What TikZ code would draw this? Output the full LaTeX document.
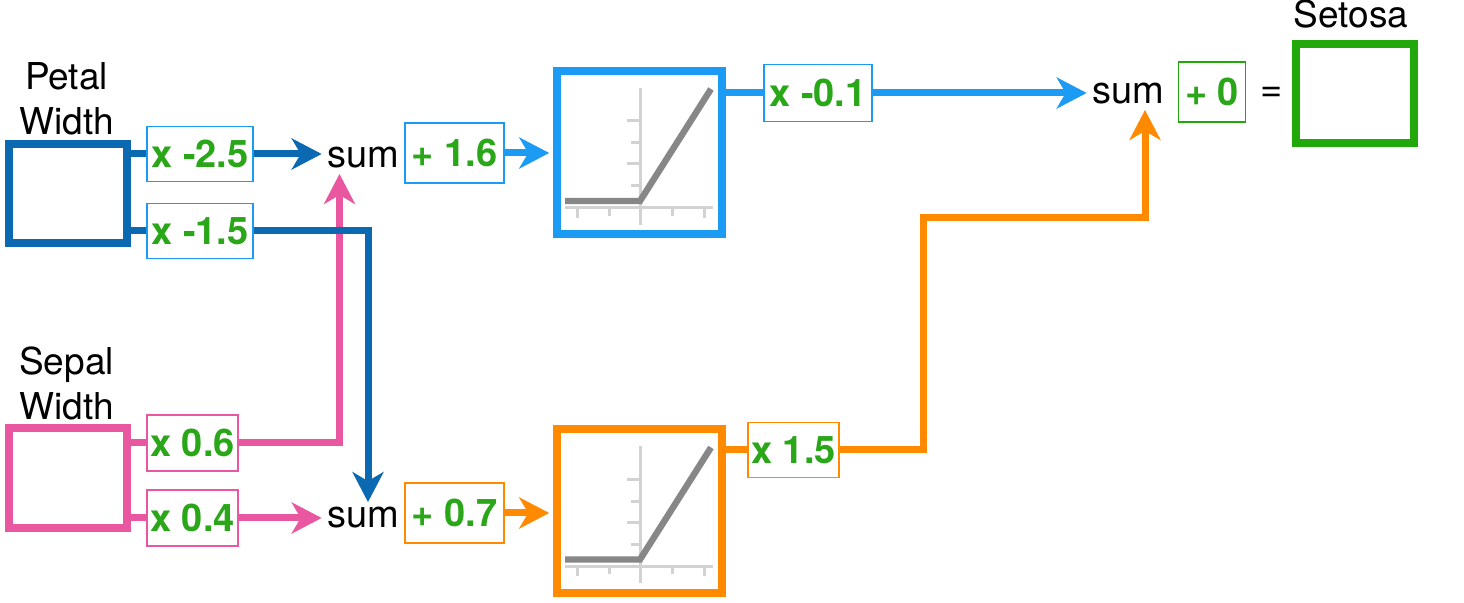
\documentclass[tikz,border=0pt]{standalone}
\usepackage{fontspec}
\setmainfont{TeX Gyre Heros}
\usetikzlibrary{arrows.meta}
\definecolor{dblue}{HTML}{0B69B1}
\definecolor{lblue}{HTML}{1B9BF3}
\definecolor{pinkc}{HTML}{E8579F}
\definecolor{orangec}{HTML}{FF8A00}
\definecolor{tgreen}{HTML}{2AA619}
\definecolor{bgreen}{HTML}{22A80A}
\definecolor{axisgrey}{HTML}{D2D2D2}
\definecolor{relugrey}{HTML}{878787}
\begin{document}
\begin{tikzpicture}[x=0.5pt,y=-0.5pt,
  bigbox/.style={draw, line width=3.75pt, inner sep=0pt, fill=white},
  wbox/.style={draw, line width=0.8pt, fill=white, inner sep=0pt,
    font=\fontsize{19}{20}\selectfont\bfseries, text=tgreen},
  lbl/.style={font=\fontsize{18.5}{22.5}\selectfont, inner sep=0pt, align=center},
  sumlbl/.style={font=\fontsize{19}{20}\selectfont, inner sep=2.5pt},
  conn/.style={line width=3.5pt},
  arr/.style={conn, -{Stealth[length=15pt,width=15.5pt,inset=4.5pt]}},
  relu/.pic={
    \draw[axisgrey, line width=1.5pt] (-74.5,55.5) -- (73.5,55.5);
    \draw[axisgrey, line width=1.5pt] (0.5,-64.5) -- (0.5,72.5);
    \draw[axisgrey, line width=1.5pt] (-62.5,55.5) -- (-62.5,65.5)
      (-30.5,55.5) -- (-30.5,63.5) (32.5,55.5) -- (32.5,63.5) (64.5,55.5) -- (64.5,65.5);
    \draw[axisgrey, line width=1.5pt] (0.5,-31.5) -- (-12.5,-31.5)
      (0.5,-9.5) -- (-8.5,-9.5) (0.5,11.5) -- (-12.5,11.5) (0.5,33.5) -- (-8.5,33.5);
    \draw[relugrey, line width=3.2pt] (-74.5,48.5) -- (0.5,48.5) -- (71.5,-63.5);
  }
]
\useasboundingbox (0,0) rectangle (1464,603);

% input labels and boxes
\node[lbl, anchor=south] (petallbl) at (66.5,135) {Petal\\Width};
\node[lbl, anchor=south] (sepallbl) at (66.5,420) {Sepal\\Width};
\node[bigbox, draw=dblue, minimum width=59pt, minimum height=49.5pt] (petal) at (68,193.5) {};
\node[bigbox, draw=pinkc, minimum width=59pt, minimum height=50pt] (sepal) at (68,478) {};

% weight boxes
\node[wbox, draw=lblue, minimum width=53pt, minimum height=27.5pt] (w1) at (200,154) {x -2.5};
\node[wbox, draw=lblue, minimum width=53pt, minimum height=27.5pt] (w2) at (200,231) {x -1.5};
\node[wbox, draw=pinkc, minimum width=45.5pt, minimum height=28pt] (w3) at (192.5,443) {x 0.6};
\node[wbox, draw=pinkc, minimum width=45.5pt, minimum height=28pt] (w4) at (192.5,518) {x 0.4};

% sums
\node[sumlbl, anchor=base] (s1) at (363,168) {sum};
\node[sumlbl, anchor=base] (s3) at (363,528) {sum};
\node[sumlbl, anchor=base] (s2) at (1128,104) {sum};

% bias boxes
\node[wbox, draw=lblue, minimum width=49.5pt, minimum height=30pt] (b1) at (454.5,153) {+ 1.6};
\node[wbox, draw=orangec, minimum width=49.5pt, minimum height=30pt] (b2) at (454.5,513) {+ 0.7};
\node[wbox, draw=bgreen, minimum width=33.5pt, minimum height=30pt] (b3) at (1212,92) {+ 0};

% relu boxes
\node[bigbox, draw=lblue, minimum width=82.5pt, minimum height=81.5pt] (r1) at (639.5,152.5) {};
\node[bigbox, draw=orangec, minimum width=82.5pt, minimum height=82pt] (r2) at (639.5,511) {};
\pic at (r1.center) {relu};
\pic at (r2.center) {relu};

% output weights
\node[wbox, draw=lblue, minimum width=54pt, minimum height=28.5pt] (w5) at (818,93) {x -0.1};
\node[wbox, draw=orangec, minimum width=45.5pt, minimum height=27.5pt] (w6) at (793.5,450) {x 1.5};

% output
\node[font=\fontsize{19}{20}\selectfont, inner sep=0pt] (eq) at (1272,94) {=};
\node[bigbox, draw=bgreen, minimum width=59pt, minimum height=49.5pt] (setosa) at (1355,93.5) {};
\node[lbl, anchor=base] (setosalbl) at (1351,27.5) {Setosa};

% coordinates for bends
\coordinate (c1) at (368,231);
\coordinate (c2) at (339.5,443);
\coordinate (c3) at (923,218);
\coordinate (c4) at (1145,218);

% connectors
\draw[conn, dblue] (petal.east |- w1.west) -- (w1.west);
\draw[conn, dblue] (petal.east |- w2.west) -- (w2.west);
\draw[conn, pinkc] (sepal.east |- w3.west) -- (w3.west);
\draw[conn, pinkc] (sepal.east |- w4.west) -- (w4.west);
\draw[arr, dblue] (w1.east) -- (w1.east -| s1.west);
\draw[arr, pinkc] (w3.east) -- (c2) -- (c2 |- s1.south);
\draw[arr, dblue] (w2.east) -- (c1) -- (c1 |- s3.north);
\draw[arr, pinkc] (w4.east) -- (w4.east -| s3.west);
\draw[arr, lblue, shorten >=2pt] (b1.east) -- (b1.east -| r1.west);
\draw[arr, orangec, shorten >=2pt] (b2.east) -- (b2.east -| r2.west);
\draw[conn, lblue] (r1.east |- w5.west) -- (w5.west);
\draw[arr, lblue] (w5.east) -- (w5.east -| s2.west);
\draw[conn, orangec] (r2.east |- w6.west) -- (w6.west);
\draw[arr, orangec] (w6.east) -- (w6.east -| c3) -- (c3) -- (c4) -- (c4 |- s2.south);
\end{tikzpicture}
\end{document}
